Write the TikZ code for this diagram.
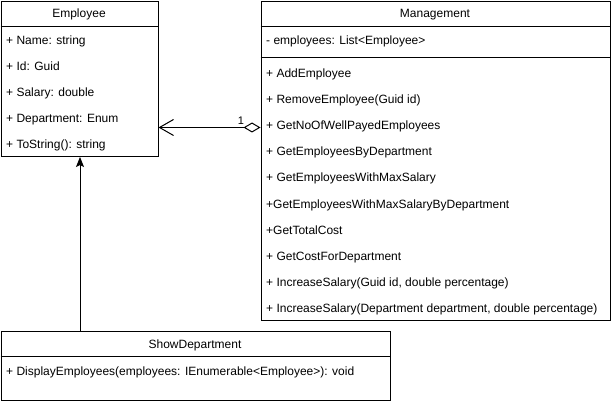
\documentclass[tikz,border=0pt]{standalone}
\usepackage{fontspec}
\setmainfont{Liberation Sans}
\usetikzlibrary{arrows.meta,calc}
\begin{document}
\begin{tikzpicture}[x=1pt,y=-1pt,
  box/.style={draw,line width=1pt,inner sep=0pt,anchor=north west},
  title/.style={font=\fontsize{12}{14}\selectfont,anchor=base,inner sep=0pt},
  member/.style={font=\fontsize{12}{14}\selectfont,anchor=base west,inner sep=0pt},
  sep/.style={line width=1pt},
  conn/.style={line width=1pt}]
\useasboundingbox (0,0) rectangle (611,401);
% Employee
\node[box,minimum width=157pt,minimum height=155pt] (emp) at (0.5,1) {};
\node[title] (empT) at (79,18) {Employee};
\draw[sep] (0.5,26.5) -- (157.5,26.5);
\node[member] (e1) at (6,44.5) {+ Name: string};
\node[member] (e2) at (6,70.5) {+ Id: Guid};
\node[member] (e3) at (6,96.5) {+ Salary: double};
\node[member] (e4) at (6,122.5) {+ Department: Enum};
\node[member] (e5) at (6,148.5) {+ ToString(): string};
% Management
\node[box,minimum width=349pt,minimum height=319pt] (mgmt) at (260.5,1) {};
\node[title] (mT) at (435,18) {Management};
\draw[sep] (260.5,26.5) -- (609.5,26.5);
\node[member] (m0) at (266,45) {- employees: List<Employee>};
\draw[sep] (260.5,57.5) -- (609.5,57.5);
\node[member] (m1) at (266,78) {+ AddEmployee};
\node[member] (m2) at (266,104) {+ RemoveEmployee(Guid id)};
\node[member] (m3) at (266,130) {+ GetNoOfWellPayedEmployees};
\node[member] (m4) at (266,156) {+ GetEmployeesByDepartment};
\node[member] (m5) at (266,182) {+ GetEmployeesWithMaxSalary};
\node[member] (m6) at (266,208) {+GetEmployeesWithMaxSalaryByDepartment};
\node[member] (m7) at (266,234) {+GetTotalCost};
\node[member] (m8) at (266,260) {+ GetCostForDepartment};
\node[member] (m9) at (266,286) {+ IncreaseSalary(Guid id, double percentage)};
\node[member] (m10) at (266,312) {+ IncreaseSalary(Department department, double percentage)};
% ShowDepartment
\node[box,minimum width=389pt,minimum height=69pt] (show) at (0.5,330.5) {};
\node[title] (sT) at (195,348.5) {ShowDepartment};
\draw[sep] (0.5,356.5) -- (389.5,356.5);
\node[member] (s1) at (6,375) {+ DisplayEmployees(employees: IEnumerable<Employee>): void};
% connectors
\coordinate (aggS) at ($(mgmt.north west)+(0,126.5)$);
\coordinate (aggE) at (emp.east |- aggS);
\draw[conn,{Diamond[open,length=17pt,width=10pt]}-{Straight Barb[length=14pt,width=16pt]}] (aggS) -- (aggE);
\node[font=\fontsize{11}{13}\selectfont,inner sep=0pt] (mult) at (241,121) {1};
\coordinate (inhS) at ($(show.north west)+(79.5,0)$);
\coordinate (inhE) at (emp.south -| inhS);
\draw[conn,-{Stealth[length=10pt,width=8pt,inset=2pt]}] (inhS) -- (inhE);
\end{tikzpicture}
\end{document}
